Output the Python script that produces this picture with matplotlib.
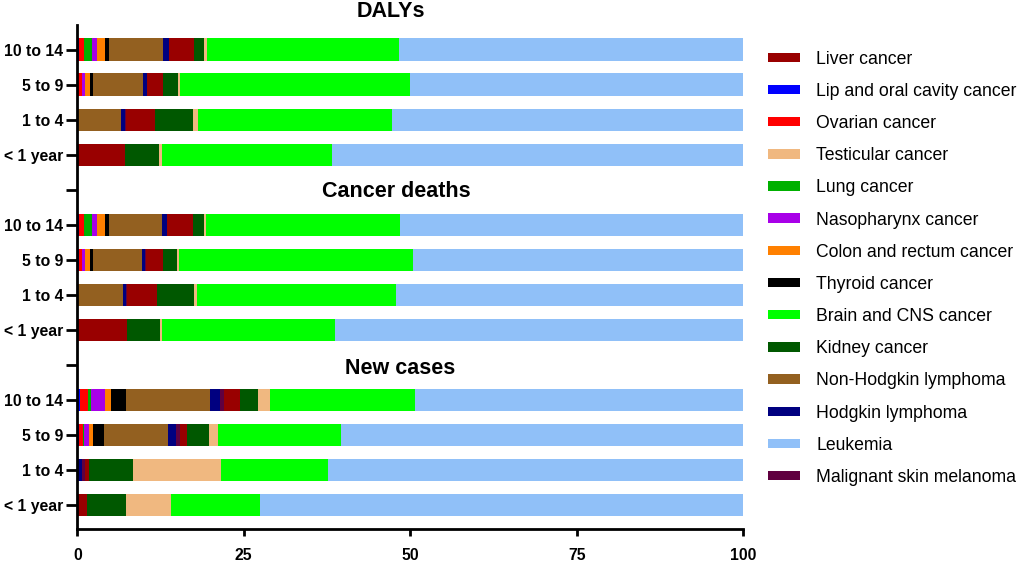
import matplotlib.pyplot as plt
import numpy as np

plt.rcParams['font.family'] = ['Liberation Sans', 'DejaVu Sans']

# age groups, top to bottom within each block
ages = ["10 to 14", "5 to 9", "1 to 4", "< 1 year"]
measures = ["DALYs", "Cancer deaths", "New cases"]

# cancers in the order they are stacked (left to right)
cancers = ["Lip and oral cavity cancer", "Ovarian cancer", "Lung cancer",
           "Nasopharynx cancer", "Colon and rectum cancer", "Thyroid cancer",
           "Non-Hodgkin lymphoma", "Hodgkin lymphoma", "Malignant skin melanoma",
           "Liver cancer", "Kidney cancer", "Testicular cancer",
           "Brain and CNS cancer", "Leukemia"]

colors = {
    "Liver cancer": "#990000",
    "Lip and oral cavity cancer": "#0000ff",
    "Ovarian cancer": "#ff0000",
    "Testicular cancer": "#f0b880",
    "Lung cancer": "#00b000",
    "Nasopharynx cancer": "#a800e8",
    "Colon and rectum cancer": "#ff8000",
    "Thyroid cancer": "#000000",
    "Brain and CNS cancer": "#00ff00",
    "Kidney cancer": "#005800",
    "Non-Hodgkin lymphoma": "#936020",
    "Hodgkin lymphoma": "#000080",
    "Leukemia": "#90c0f8",
    "Malignant skin melanoma": "#600040",
}

legend_order = ["Liver cancer", "Lip and oral cavity cancer", "Ovarian cancer",
                "Testicular cancer", "Lung cancer", "Nasopharynx cancer",
                "Colon and rectum cancer", "Thyroid cancer", "Brain and CNS cancer",
                "Kidney cancer", "Non-Hodgkin lymphoma", "Hodgkin lymphoma",
                "Leukemia", "Malignant skin melanoma"]

# percent shares, one row per age group, columns follow `cancers`
dalys = [
    [0.20, 0.85, 1.15, 0.75, 1.20, 0.55, 8.20, 0.80, 0.10, 3.75, 1.50, 0.45, 28.8, 51.70],
    [0.15, 0.50, 0.05, 0.50, 0.70, 0.40, 7.50, 0.60, 0.10, 2.30, 2.35, 0.25, 34.5, 50.10],
    [0.05, 0.05, 0.00, 0.00, 0.00, 0.00, 6.50, 0.50, 0.20, 4.40, 5.60, 0.80, 29.2, 52.70],
    [0.05, 0.05, 0.00, 0.00, 0.00, 0.00, 0.00, 0.00, 0.00, 7.05, 5.10, 0.40, 25.6, 61.75],
]
deaths = [
    [0.25, 0.80, 1.10, 0.75, 1.20, 0.60, 7.95, 0.75, 0.10, 3.90, 1.60, 0.30, 29.1, 51.60],
    [0.25, 0.40, 0.05, 0.45, 0.75, 0.40, 7.35, 0.55, 0.10, 2.50, 2.20, 0.30, 35.1, 49.60],
    [0.05, 0.05, 0.00, 0.00, 0.00, 0.00, 6.80, 0.40, 0.10, 4.60, 5.55, 0.45, 29.8, 52.20],
    [0.05, 0.05, 0.00, 0.00, 0.00, 0.00, 0.00, 0.00, 0.00, 7.30, 5.00, 0.25, 26.0, 61.35],
]
new_cases = [
    [0.40, 1.15, 0.45, 2.10, 1.00, 2.20, 12.65, 1.45, 0.65, 2.35, 2.75, 1.75, 21.8, 49.30],
    [0.25, 0.65, 0.05, 0.85, 0.55, 1.60, 9.65, 1.25, 0.60, 1.00, 3.35, 1.30, 18.5, 60.40],
    [0.10, 0.00, 0.00, 0.00, 0.00, 0.00, 0.00, 0.60, 0.45, 0.60, 6.65, 13.25, 16.0, 62.35],
    [0.05, 0.05, 0.00, 0.00, 0.00, 0.00, 0.00, 0.00, 0.00, 1.30, 5.90, 6.70, 13.5, 72.50],
]
blocks = [dalys, deaths, new_cases]

fig = plt.figure(figsize=(10.21, 5.63), dpi=100)
ax = fig.add_axes([0.0757, 0.0599, 0.6523, 0.8957])

yticks, ylabels = [], []
for g, block in enumerate(blocks):
    vals = np.array(block)
    ypos = np.arange(len(ages)) + 5 * g
    left = np.zeros(len(ages))
    for j, name in enumerate(cancers):
        ax.barh(ypos, vals[:, j], left=left, height=0.65,
                color=colors[name], linewidth=0, label=name if g == 0 else None)
        left += vals[:, j]
    if g > 0:
        # empty tick between blocks
        yticks.append(5 * g - 1)
        ylabels.append("")
    yticks.extend(ypos)
    ylabels.extend(ages)

ax.set_yticks(yticks)
ax.set_yticklabels(ylabels, fontsize=11.3, fontweight="bold")
ax.set_ylim(13.69, -0.71)
ax.set_xlim(0, 100)
ax.set_xticks([0, 25, 50, 75, 100])
ax.set_xticklabels(["0", "25", "50", "75", "100"], fontsize=11.3, fontweight="bold")

for s in ["top", "right"]:
    ax.spines[s].set_visible(False)
for s in ["left", "bottom"]:
    ax.spines[s].set_linewidth(2)
ax.tick_params(axis="y", length=8, width=2, pad=2.2)
ax.tick_params(axis="x", length=5, width=2, pad=8.5)

# block titles
title_pos = [(0.383, 0.980), (0.388, 0.659), (0.392, 0.345)]
for (tx, ty), m in zip(title_pos, measures):
    fig.text(tx, ty, m, ha="center", va="center", fontsize=15.5, fontweight="bold")

handles, labels = ax.get_legend_handles_labels()
lookup = dict(zip(labels, handles))
ax.legend([lookup[n] for n in legend_order], legend_order,
          loc="upper left", bbox_to_anchor=(0.752, 0.910),
          bbox_transform=fig.transFigure, frameon=False, fontsize=12.7,
          borderpad=0, borderaxespad=0, handlelength=1.8, handleheight=0.45,
          handletextpad=0.95, labelspacing=0.86)

plt.savefig("out.png", dpi=100)
